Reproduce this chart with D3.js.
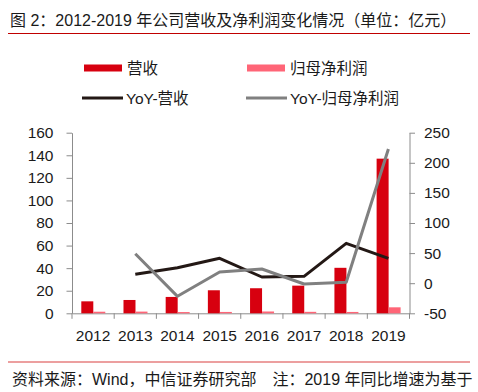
<!DOCTYPE html>
<html>
<head>
<meta charset="utf-8">
<script src="https://cdn.jsdelivr.net/npm/d3@7"></script>
<style>
body{margin:0;background:#fff;}
text{font-family:"Liberation Sans","Noto Sans CJK SC",sans-serif;fill:#1a1a1a;}
</style>
</head>
<body>
<script>
//chart data
var years = ["2012","2013","2014","2015","2016","2017","2018","2019"];
var revenue = [10.6, 11.8, 14.5, 20.4, 22.2, 24.5, 40.3, 137];
var profit = [1.4, 1.5, 1.1, 1.2, 1.6, 1.3, 1.2, 5.3];
var yoyRevenue = [null, 14.8, 25.8, 41.3, 10.3, 11.4, 66.2, 41.3];
var yoyProfit = [null, 49, -21.8, 18.6, 23.6, -1.3, 1.5, 223];
var leftTicks = [0,20,40,60,80,100,120,140,160];
var rightTicks = [-50,0,50,100,150,200,250];

var red = "#d7000f", pink = "#ff6577", dark = "#231815", grey = "#808080", axisCol = "#8c8c8c";

var svg = d3.select("body").append("svg").attr("width",478).attr("height",392);

//title and footer
svg.append("text").attr("x",10).attr("y",26).style("font-size","16px")
	.text("图 2：2012-2019 年公司营收及净利润变化情况（单位：亿元）");
svg.append("line").attr("x1",8).attr("x2",470).attr("y1",33.5).attr("y2",33.5)
	.attr("stroke","#c00000").attr("stroke-width",1.2);
svg.append("line").attr("x1",8).attr("x2",470).attr("y1",362).attr("y2",362)
	.attr("stroke","#d94040").attr("stroke-width",1.2);
svg.append("text").attr("x",12).attr("y",385).style("font-size","16px")
	.text("资料来源：Wind，中信证券研究部　注：2019 年同比增速为基于");

//scales
var x = d3.scaleBand().domain(years).range([72,409.5]);
var yL = d3.scaleLinear().domain([0,160]).range([313.3,132.7]);
var yR = d3.scaleLinear().domain([-50,250]).range([313.3,132.7]);
var barW = 12, barOff = 9.3;
var plain = function(d){return String(d);}; //hyphen minus like the original

//axes
var gL = svg.append("g").attr("transform","translate(72,0)")
	.call(d3.axisLeft(yL).tickValues(leftTicks).tickFormat(plain).tickSize(5.5).tickSizeOuter(0).tickPadding(13));
var gR = svg.append("g").attr("transform","translate(409.5,0)")
	.call(d3.axisRight(yR).tickValues(rightTicks).tickFormat(plain).tickSize(5.5).tickSizeOuter(0).tickPadding(9));
var gX = svg.append("g").attr("transform","translate(0,313.3)")
	.call(d3.axisBottom(x).tickSize(0).tickPadding(17));
//x ticks sit on band edges
gX.selectAll(".edge").data(years.concat(["end"])).enter().append("line")
	.attr("x1",function(d,i){return 72+i*x.bandwidth();})
	.attr("x2",function(d,i){return 72+i*x.bandwidth();})
	.attr("y1",0).attr("y2",5.5).attr("stroke",axisCol);

[gL,gR,gX].forEach(function(g){
	g.selectAll("path.domain").attr("stroke",axisCol);
	g.selectAll(".tick line").attr("stroke",axisCol);
	g.selectAll(".tick text").style("font-size","15.5px").style("font-family","Liberation Sans, Arial, sans-serif").attr("fill","#1a1a1a");
});

//bars
svg.append("g").selectAll("rect").data(revenue).enter().append("rect")
	.attr("x",function(d,i){return x(years[i])+barOff;})
	.attr("y",function(d){return yL(d);})
	.attr("width",barW)
	.attr("height",function(d){return yL(0)-yL(d);})
	.attr("fill",red);
svg.append("g").selectAll("rect").data(profit).enter().append("rect")
	.attr("x",function(d,i){return x(years[i])+barOff+barW;})
	.attr("y",function(d){return yL(d);})
	.attr("width",barW)
	.attr("height",function(d){return yL(0)-yL(d);})
	.attr("fill",pink);

//lines
var line = d3.line()
	.defined(function(d){return d != null;})
	.x(function(d,i){return x(years[i])+x.bandwidth()/2;})
	.y(function(d){return yR(d);});
svg.append("path").datum(yoyRevenue).attr("d",line)
	.attr("fill","none").attr("stroke",dark).attr("stroke-width",3).attr("stroke-linejoin","round");
svg.append("path").datum(yoyProfit).attr("d",line)
	.attr("fill","none").attr("stroke",grey).attr("stroke-width",3).attr("stroke-linejoin","round");

//legend
var legend = [
	{label:"营收", type:"rect", col:red, x:84, y:68},
	{label:"归母净利润", type:"rect", col:pink, x:247, y:68},
	{label:"YoY-营收", type:"line", col:dark, x:82, y:98},
	{label:"YoY-归母净利润", type:"line", col:grey, x:246, y:98}
];
legend.forEach(function(l){
	if (l.type == "rect") {
		svg.append("rect").attr("x",l.x).attr("y",l.y-3.5).attr("width",38).attr("height",7).attr("fill",l.col);
		svg.append("text").attr("x",l.x+43).attr("y",l.y+5.5).style("font-size","15.5px").style("font-family","Noto Sans CJK SC, sans-serif").text(l.label);
	} else {
		svg.append("line").attr("x1",l.x).attr("x2",l.x+41).attr("y1",l.y).attr("y2",l.y).attr("stroke",l.col).attr("stroke-width",3);
		svg.append("text").attr("x",l.x+44).attr("y",l.y+5.5).style("font-size","15.5px").text(l.label);
	}
});
</script>
</body>
</html>
